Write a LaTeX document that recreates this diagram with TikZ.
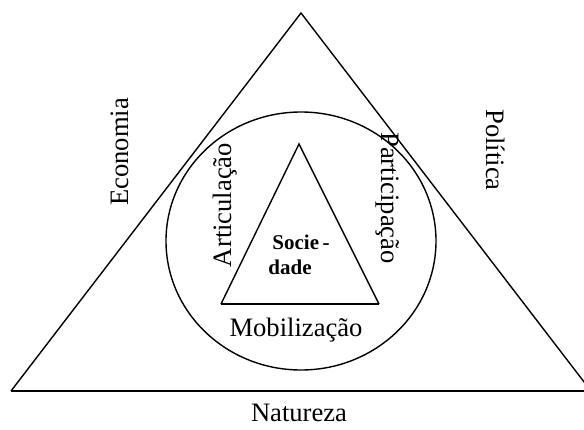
\documentclass[tikz,border=0pt]{standalone}
\usepackage{fontspec}
\setmainfont{Liberation Serif}
\begin{document}
\begin{tikzpicture}[x=0.5pt,y=-0.5pt,
            lbl/.style={font=\fontsize{13.3}{16}\selectfont, inner sep=0pt},
            soc/.style={font=\fontsize{10.5}{12.5}\selectfont\bfseries,
                align=left, inner sep=0pt},
            edge/.style={line width=0.7pt, line join=miter},
            basis/.style={line width=1pt}]
            \useasboundingbox (0,0) rectangle (584,429);

            % outer triangle
            \coordinate (top) at (301,13);
            \coordinate (bl) at (11,391);
            \coordinate (br) at (591,391);
            \draw[edge] (bl) -- (top) -- (br);
            \draw[basis] (bl) -- (br);

            % circle
            \draw[edge] (301,241) ellipse [x radius=135, y radius=129];

            % inner triangle
            \coordinate (itop) at (299,144);
            \coordinate (ibl) at (221,304);
            \coordinate (ibr) at (379,304);
            \draw[edge] (ibl) -- (itop) -- (ibr);
            \draw[basis] (ibl) -- (ibr);

            \node[lbl] (nat) at (299,413) {Natureza};
            \node[lbl, rotate=90] (eco) at (120,152) {Economia};
            \node[lbl, rotate=-90] (pol) at (496,150) {Política};
            \node[lbl, rotate=90] (art) at (225,205) {Articulação};
            \node[lbl, rotate=-90] (par) at (388,198) {Participação};
            \node[lbl] (mob) at (296,330) {Mobilização};
            \node[soc] (soc) at (299,255) {\hspace{2pt}Socie\,-\\dade};
\end{tikzpicture}
\end{document}
